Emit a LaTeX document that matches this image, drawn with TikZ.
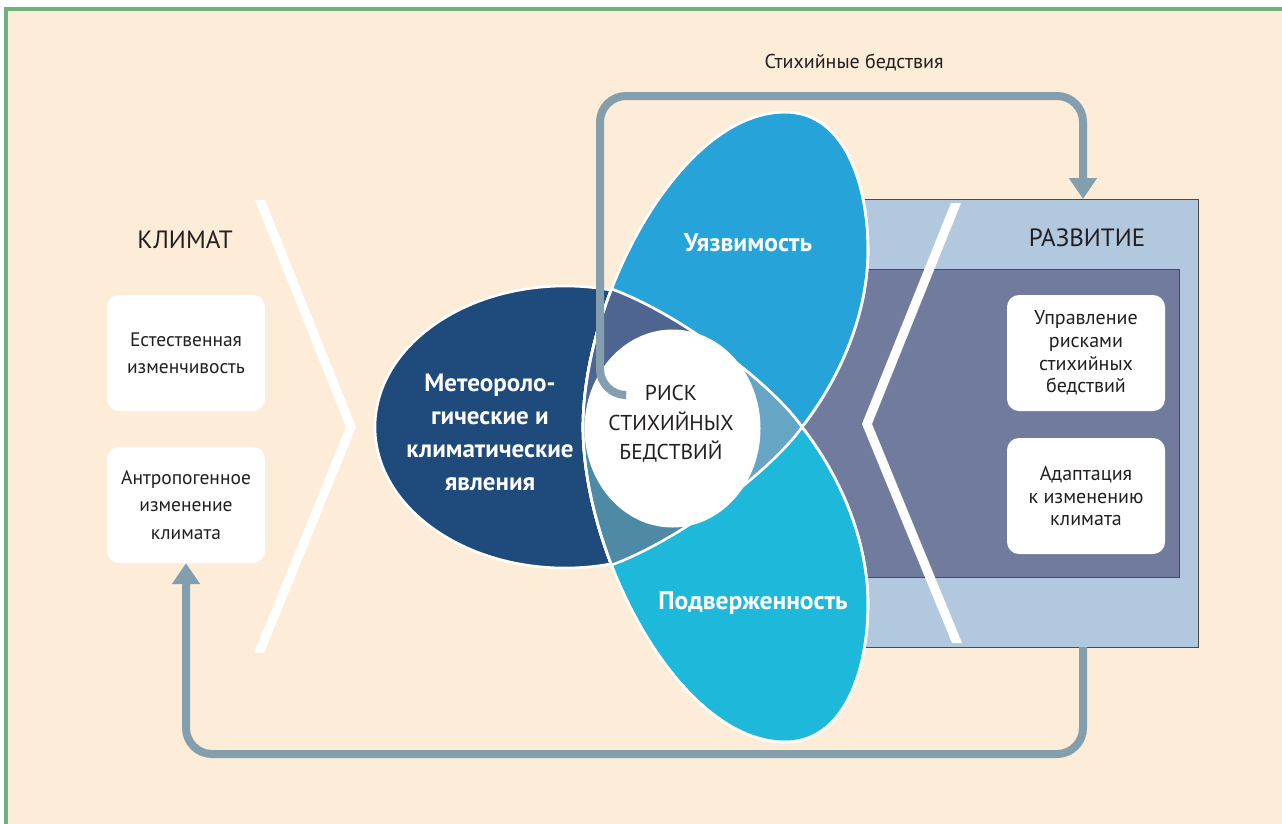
\documentclass[tikz,border=0pt]{standalone}
\usepackage{fontspec}
\setmainfont{PT Sans}
\usetikzlibrary{arrows.meta}
\definecolor{cream}{HTML}{FDECD8}
\definecolor{frame}{HTML}{6DB17E}
\definecolor{dblue}{HTML}{1F4A7C}
\definecolor{ublue}{HTML}{26A3D8}
\definecolor{pblue}{HTML}{1EB8DA}
\definecolor{slate}{HTML}{4D6590}
\definecolor{teal}{HTML}{4E8AA6}
\definecolor{lens}{HTML}{67A5C4}
\definecolor{panell}{HTML}{B1C8DF}
\definecolor{paneld}{HTML}{717B9E}
\definecolor{arrowc}{HTML}{839EAC}
\definecolor{txt}{HTML}{231F20}
\definecolor{edge}{HTML}{4A4A4A}
\tikzset{
  infobox/.style={fill=white, rounded corners=12pt, minimum width=158pt, minimum height=116pt, align=center, inner sep=0pt, text=txt},
  flow/.style={draw=arrowc, line width=8pt, rounded corners=26pt, -{Triangle[width=27pt,length=21pt]}},
  head/.style={text=txt, font=\fontsize{25}{28}\selectfont},
  petal/.style={text=white, font=\bfseries\fontsize{25.5}{33}\selectfont, align=center},
  outline/.style={draw=white, line width=2.6pt, line join=round},
  chev/.style={fill=white}
}
\def\Upath{(583,427) .. controls (583,297) and (680,112) .. (785,112) .. controls (845,112) and (868,185) .. (868,250) .. controls (868,320) and (835,385) .. (802,427) .. controls (772,470) and (680,540) .. (611.5,565) .. controls (593.6,518.8) and (583,469.9) .. cycle}
\def\Ppath{(583,427) .. controls (583,557) and (680,742) .. (785,742) .. controls (845,742) and (868,669) .. (868,604) .. controls (868,534) and (835,469) .. (802,427) .. controls (772,384) and (680,314) .. (611.5,289) .. controls (593.6,335.2) and (583,384.1) .. cycle}
\def\Dpath{(565,427) ellipse [x radius=190, y radius=141]}
\begin{document}
\begin{tikzpicture}[x=1pt,y=-1pt]
\useasboundingbox (0,0) rectangle (1282,823);
\fill[white] (0,0) rectangle (1282,823);
\fill[cream] (6,9) rectangle (1290,830);
\draw[frame, line width=3.8pt] (6,830) -- (6,9) -- (1290,9);

% left chevron
\fill[chev] (255,200) -- (265,200) -- (356,427) -- (264,653) -- (254,653) -- (346,427) -- cycle;

% development panel
\node[fill=panell, draw=edge, line width=0.9pt, minimum width=363pt, minimum height=448pt, inner sep=0pt] (panel) at (1016.5,423) {};
\node[fill=paneld, draw=edge, line width=0.9pt, minimum width=399pt, minimum height=308pt, inner sep=0pt] (inner) at (979.5,423) {};
\fill[chev] (951,203) -- (961,203) -- (872,424) -- (962,643) -- (952,643) -- (862,424) -- cycle;

% petals
\fill[dblue] \Dpath;
\draw[outline] \Dpath;
\fill[ublue] \Upath;
\draw[outline] \Upath;
\fill[pblue] \Ppath;
\draw[outline] \Ppath;
\begin{scope}
  \clip \Upath;
  \clip \Ppath;
  \fill[lens] (570,280) rectangle (820,580);
  \clip \Dpath;
  \fill[slate] (570,280) rectangle (820,427);
  \fill[teal] (570,427) rectangle (820,580);
\end{scope}
\draw[outline] \Upath;
\draw[outline] \Ppath;
\fill[white] (672.5,428.5) ellipse [x radius=88, y radius=99];

% boxes
\node[infobox, font=\fontsize{19.5}{27}\selectfont] (b1) at (186,353) {Естественная\\изменчивость};
\node[infobox, font=\fontsize{19.5}{27.5}\selectfont] (b2) at (186,505) {Антропогенное\\изменение\\климата};
\node[infobox, font=\fontsize{20}{22.7}\selectfont] (b3) at (1086,353) {Управление\\рисками\\стихийных\\бедствий};
\node[infobox, font=\fontsize{20}{22.7}\selectfont] (b4) at (1086,496) {Адаптация\\к изменению\\климата};

% connectors
\coordinate (riskstart) at (624,395);
\coordinate (devtop) at (1083,199);
\coordinate (devbot) at (1083,647);
\draw[flow] (riskstart) -- (600,395) -- (600,96) -- (1083,96) -- (devtop);
\draw[flow] (devbot) -- (1083,754) -- (186,754) -- (b2.south);

% labels
\node[text=txt, font=\fontsize{20}{22}\selectfont] (disasters) at (854,63) {Стихийные бедствия};
\node[head] (klimat) at (185,240) {КЛИМАТ};
\node[head] (razvitie) at (1087,238) {РАЗВИТИЕ};
\node[petal, font=\bfseries\fontsize{25}{33}\selectfont] (meteo) at (490,432) {Метеороло-\\гические и\\климатические\\явления};
\node[petal] (vuln) at (748,243) {Уязвимость};
\node[petal] (expo) at (753,603) {Подверженность};
\node[text=txt, font=\fontsize{21.5}{29.5}\selectfont, align=center] (risk) at (671,424) {РИСК\\СТИХИЙНЫХ\\БЕДСТВИЙ};
\end{tikzpicture}
\end{document}
